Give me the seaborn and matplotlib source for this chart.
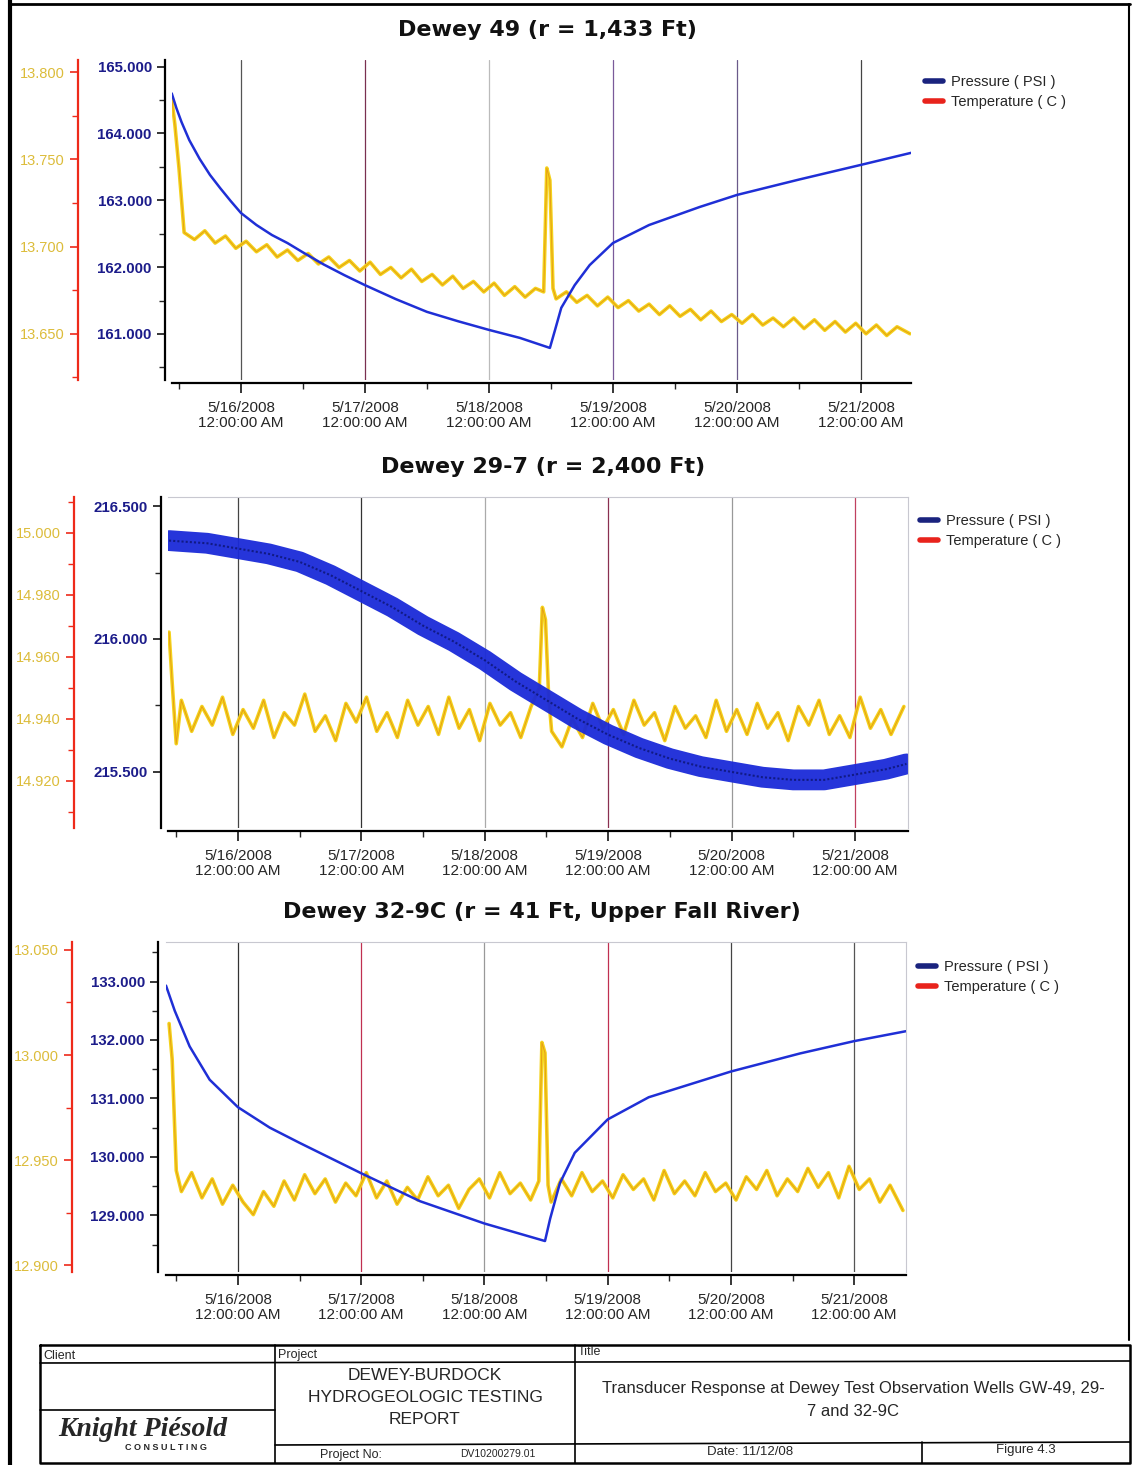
import numpy as np
import pandas as pd
import matplotlib
matplotlib.use("Agg")
import matplotlib.pyplot as plt
import seaborn as sns
from matplotlib.lines import Line2D
from matplotlib.ticker import MultipleLocator, FixedLocator, FormatStrFormatter

sns.set_style("white")
plt.rcParams['font.family'] = ['Liberation Sans', 'DejaVu Sans']

# ---- data (hours after 5/16/2008 12:00 AM) ----
day_ticks = [0, 24, 48, 72, 96, 120]
day_labels = ["5/16/2008\n12:00:00 AM", "5/17/2008\n12:00:00 AM", "5/18/2008\n12:00:00 AM",
              "5/19/2008\n12:00:00 AM", "5/20/2008\n12:00:00 AM", "5/21/2008\n12:00:00 AM"]

temp_hours = [-13.4, -12.8, -12, -11, -9, -7, -5, -3, -1, 1, 3, 5, 7, 9, 11, 13, 15, 17, 19, 21,
              23, 25, 27, 29, 31, 33, 35, 37, 39, 41, 43, 45, 47, 49, 51, 53, 55, 57,
              58.6, 59.2, 59.8, 60.4, 61, 63, 65, 67, 69, 71, 73, 75, 77, 79, 81, 83, 85, 87,
              89, 91, 93, 95, 97, 99, 101, 103, 105, 107, 109, 111, 113, 115, 117, 119, 121,
              123, 125, 127, 129.5]

# Dewey 49
p49_hours = [-13.4, -12.5, -11.5, -10, -8, -6, -4, -2, 0, 3, 6, 9, 12, 16, 20, 24, 30, 36, 42,
             48, 54, 59.8, 60.8, 62, 64.6, 67.5, 72, 79, 88.8, 96, 108, 120, 129.7]
p49_psi = [164.60, 164.38, 164.17, 163.90, 163.62, 163.38, 163.18, 162.99, 162.81, 162.63,
           162.48, 162.36, 162.22, 162.04, 161.88, 161.73, 161.52, 161.33, 161.19, 161.06,
           160.94, 160.79, 161.06, 161.39, 161.73, 162.03, 162.36, 162.63, 162.90, 163.08,
           163.31, 163.53, 163.71]
t49_c = [13.785, 13.770, 13.745, 13.708, 13.704, 13.709, 13.702, 13.706, 13.699, 13.703,
         13.697, 13.701, 13.694, 13.698, 13.692, 13.696, 13.690, 13.694, 13.688, 13.692,
         13.686, 13.691, 13.684, 13.688, 13.682, 13.687, 13.680, 13.684, 13.678, 13.683,
         13.676, 13.680, 13.674, 13.679, 13.672, 13.677, 13.671, 13.676,
         13.674, 13.745, 13.738, 13.676, 13.670, 13.674, 13.668, 13.672, 13.666, 13.671,
         13.665, 13.669, 13.663, 13.667, 13.661, 13.666, 13.660, 13.664, 13.658, 13.663,
         13.657, 13.661, 13.656, 13.661, 13.655, 13.659, 13.654, 13.659, 13.653, 13.658,
         13.652, 13.657, 13.651, 13.656, 13.650, 13.655, 13.649, 13.654, 13.650]

# Dewey 29-7
p297_hours = [-13.4, -6, 0, 6, 12, 18, 24, 30, 36, 42, 48, 54, 60, 66, 72, 78, 84, 90, 96,
              102, 108, 114, 120, 126, 130]
p297_psi = [216.37, 216.36, 216.34, 216.32, 216.29, 216.24, 216.18, 216.12, 216.05, 215.99,
            215.92, 215.84, 215.77, 215.70, 215.64, 215.59, 215.55, 215.52, 215.50, 215.48,
            215.47, 215.47, 215.49, 215.51, 215.53]
t297_c = [14.968, 14.952, 14.932, 14.946, 14.936, 14.944, 14.938, 14.947, 14.935, 14.943,
          14.937, 14.946, 14.934, 14.942, 14.938, 14.948, 14.936, 14.941, 14.933, 14.945,
          14.939, 14.947, 14.936, 14.942, 14.934, 14.946, 14.938, 14.944, 14.935, 14.947,
          14.937, 14.943, 14.933, 14.945, 14.938, 14.942, 14.934, 14.944,
          14.950, 14.976, 14.972, 14.948, 14.936, 14.931, 14.940, 14.934, 14.945, 14.937,
          14.943, 14.935, 14.946, 14.938, 14.942, 14.933, 14.944, 14.937, 14.941, 14.934,
          14.946, 14.936, 14.943, 14.935, 14.945, 14.937, 14.942, 14.933, 14.944, 14.938,
          14.946, 14.935, 14.941, 14.934, 14.947, 14.937, 14.943, 14.935, 14.944]

# Dewey 32-9C
p329_hours = [-14, -12.3, -9.4, -5.5, 0, 6.2, 12, 24, 35.5, 48, 59.8, 60.8, 62.7, 65.6, 72,
              80, 96, 109.5, 120, 130.1]
p329_psi = [132.93, 132.50, 131.89, 131.32, 130.85, 130.50, 130.24, 129.72, 129.24, 128.86,
            128.56, 128.94, 129.55, 130.07, 130.64, 131.02, 131.46, 131.77, 131.98, 132.15]
t329_c = [13.015, 12.998, 12.945, 12.935, 12.944, 12.932, 12.941, 12.929, 12.938, 12.930,
          12.924, 12.935, 12.928, 12.940, 12.931, 12.943, 12.934, 12.941, 12.930, 12.939,
          12.933, 12.944, 12.932, 12.940, 12.929, 12.937, 12.931, 12.942, 12.933, 12.938,
          12.927, 12.936, 12.941, 12.932, 12.944, 12.934, 12.939, 12.931,
          12.940, 13.006, 13.001, 12.938, 12.930, 12.941, 12.933, 12.944, 12.935, 12.940,
          12.932, 12.943, 12.936, 12.941, 12.931, 12.945, 12.934, 12.940, 12.933, 12.944,
          12.935, 12.939, 12.931, 12.942, 12.936, 12.945, 12.933, 12.941, 12.935, 12.946,
          12.937, 12.944, 12.932, 12.947, 12.936, 12.941, 12.930, 12.938, 12.926]

W, H = 1133, 1465
fig = plt.figure(figsize=(W / 100, H / 100), dpi=100)
fig.set_facecolor("w")

# page overlay in pixel coords (frame, title block)
ov = fig.add_axes([0, 0, 1, 1], zorder=-5)
ov.set_xlim(0, W)
ov.set_ylim(H, 0)
ov.axis("off")


def px_axes(x0, y0, x1, y1):
    return fig.add_axes([x0 / W, 1 - y1 / H, (x1 - x0) / W, (y1 - y0) / H])


panels = [
    dict(title="Dewey 49 (r = 1,433 Ft)", title_xy=(547, 30), box=(172, 60, 911, 380),
         p_off=7, t_off=94, ph=p49_hours, pv=p49_psi, tv=t49_c, band=False,
         plim=(160.31, 165.10), pmaj=1.0, pmin=0.5, tlim=(13.6235, 13.8069), tmaj=0.05, tmin=0.025,
         xlim=(-13.35, 129.7), leg=(912, 62), frame=False,
         grid=['#555555', '#7a3050', '#bbbbbb', '#7a5a9a', '#6a5a8a', '#444444']),
    dict(title="Dewey 29-7 (r = 2,400 Ft)", title_xy=(543, 467), box=(168, 497, 908, 828),
         p_off=7, t_off=94, ph=p297_hours, pv=p297_psi, tv=t297_c, band=True,
         plim=(215.289, 216.534), pmaj=0.5, pmin=0.25, tlim=(14.9048, 15.0116), tmaj=0.02, tmin=0.01,
         xlim=(-13.6, 130.3), leg=(907, 501), frame=True,
         grid=['#444444', '#333333', '#aaaaaa', '#8a3050', '#999999', '#c04060']),
    dict(title="Dewey 32-9C (r = 41 Ft, Upper Fall River)", title_xy=(542, 912), box=(166, 942, 906, 1272),
         p_off=8, t_off=94, ph=p329_hours, pv=p329_psi, tv=t329_c, band=False,
         plim=(128.03, 133.676), pmaj=1.0, pmin=0.5, tlim=(12.8967, 13.0538), tmaj=0.05, tmin=0.025,
         xlim=(-14.0, 130.1), leg=(905, 947), frame=True,
         grid=['#333333', '#c03050', '#999999', '#c03050', '#444444', '#555555']),
]

press_col = "#1f2fd6"
navy = "#1c1c8a"
temp_lab = "#dcbc3a"

for p in panels:
    ax = px_axes(*p["box"])
    tax = ax.twinx()
    # pressure on top of temperature
    ax.set_zorder(tax.get_zorder() + 1)
    ax.patch.set_visible(False)

    tdf = pd.DataFrame({"hours": temp_hours, "temp": p["tv"]})
    pdf = pd.DataFrame({"hours": p["ph"], "psi": p["pv"]})

    # vertical day lines
    for d, c in zip(day_ticks, p["grid"]):
        tax.axvline(d, color=c, lw=0.9, zorder=0)

    sns.lineplot(data=tdf, x="hours", y="temp", ax=tax, color="#f4d21c", lw=2.6, zorder=2)
    sns.lineplot(data=tdf, x="hours", y="temp", ax=tax, color="#e08a10", lw=0.7, alpha=0.7, zorder=3)
    if p["band"]:
        sns.lineplot(data=pdf, x="hours", y="psi", ax=ax, color="#1a2ad8", lw=15, alpha=0.95)
        sns.lineplot(data=pdf, x="hours", y="psi", ax=ax, color="#0c1470", lw=1.5,
                     dashes=(1, 1), alpha=0.8)
    else:
        sns.lineplot(data=pdf, x="hours", y="psi", ax=ax, color=press_col, lw=1.8)

    ax.set_xlim(*p["xlim"])
    ax.set_ylim(*p["plim"])
    tax.set_ylim(*p["tlim"])
    ax.set_xlabel("")
    ax.set_ylabel("")
    tax.set_ylabel("")

    # pressure axis
    ax.yaxis.set_major_locator(MultipleLocator(p["pmaj"]))
    ax.yaxis.set_minor_locator(MultipleLocator(p["pmin"]))
    ax.yaxis.set_major_formatter(FormatStrFormatter("%.3f"))
    ax.spines["left"].set_position(("outward", p["p_off"] * 0.72))
    ax.spines["left"].set_linewidth(1.6)
    ax.spines["left"].set_color("black")
    ax.tick_params(axis="y", which="major", length=6, width=1.3, labelsize=10.8,
                   labelcolor=navy, direction="out", left=True)
    ax.tick_params(axis="y", which="minor", length=4, width=1.0, left=True)
    for lab in ax.get_yticklabels():
        lab.set_fontweight("bold")

    # x axis
    ax.xaxis.set_major_locator(FixedLocator(day_ticks))
    ax.set_xticklabels(day_labels)
    ax.xaxis.set_minor_locator(MultipleLocator(12))
    ax.spines["bottom"].set_position(("outward", 2))
    ax.spines["bottom"].set_linewidth(1.6)
    ax.spines["bottom"].set_color("black")
    ax.tick_params(axis="x", which="major", length=7, width=1.3, labelsize=11,
                   direction="out", bottom=True, pad=6)
    ax.tick_params(axis="x", which="minor", length=4, width=1.0, bottom=True)
    for lab in ax.get_xticklabels():
        lab.set_linespacing(1.15)

    for s in ["top", "right"]:
        ax.spines[s].set_visible(p["frame"])
        ax.spines[s].set_color("#c8c8d0")
        ax.spines[s].set_linewidth(0.8)

    # temperature axis moved to the far left
    tax.yaxis.tick_left()
    tax.yaxis.set_label_position("left")
    tax.spines["left"].set_visible(True)
    tax.spines["left"].set_position(("outward", p["t_off"] * 0.72))
    tax.spines["left"].set_color("#ee2a1a")
    tax.spines["left"].set_linewidth(1.6)
    for s in ["top", "right", "bottom"]:
        tax.spines[s].set_visible(False)
    tax.yaxis.set_major_locator(MultipleLocator(p["tmaj"]))
    tax.yaxis.set_minor_locator(MultipleLocator(p["tmin"]))
    tax.yaxis.set_major_formatter(FormatStrFormatter("%.3f"))
    tax.tick_params(axis="y", which="major", length=6, width=1.2, color="#ee2a1a",
                    labelsize=10.5, labelcolor=temp_lab, direction="out", left=True, right=False)
    tax.tick_params(axis="y", which="minor", length=4, width=1.0, color="#ee2a1a",
                    left=True, right=False)

    ov.text(p["title_xy"][0], p["title_xy"][1], p["title"], ha="center", va="center",
            fontsize=16, fontweight="bold", color="#111111", family=["DejaVu Sans"])

    handles = [Line2D([], [], color="#1a237e", lw=4), Line2D([], [], color="#e8231c", lw=4)]
    fig.legend(handles, ["Pressure ( PSI )", "Temperature ( C )"], loc="upper left",
               bbox_to_anchor=(p["leg"][0] / W, 1 - p["leg"][1] / H), frameon=False,
               fontsize=10.5, handlelength=1.2, handletextpad=0.6, labelspacing=0.4)

# ---- page frame ----
ov.plot([10, 10], [0, H], color="black", lw=3)
ov.plot([10, 1130], [4, 4], color="black", lw=2)
ov.plot([1129, 1129], [4, 1340], color="black", lw=1.5)

# ---- title block ----
k = "black"
ov.plot([40, 1130, 1130, 40, 40], [1345, 1345, 1463, 1463, 1345], color=k, lw=1.8)
ov.plot([40, 1130], [1363, 1361], color=k, lw=1.2)
ov.plot([275, 275], [1345, 1463], color=k, lw=1.2)
ov.plot([575, 575], [1345, 1463], color=k, lw=1.2)
ov.plot([40, 275], [1410, 1410], color=k, lw=1.2)
ov.plot([275, 1130], [1445, 1442], color=k, lw=1.2)
ov.plot([922, 922], [1442, 1463], color=k, lw=1.2)

ov.text(43, 1356, "Client", fontsize=9, va="center")
ov.text(278, 1355, "Project", fontsize=9, va="center")
ov.text(578, 1352, "Title", fontsize=9, va="center")
for yy, line in zip([1375, 1397, 1420], ["DEWEY-BURDOCK", "HYDROGEOLOGIC TESTING", "REPORT"]):
    ov.text(425, yy, line, fontsize=12.5, ha="center", va="center")
ov.text(853, 1389, "Transducer Response at Dewey Test Observation Wells GW-49, 29-",
        fontsize=12, ha="center", va="center")
ov.text(853, 1411, "7 and 32-9C", fontsize=12, ha="center", va="center")
ov.text(320, 1455, "Project No:", fontsize=9, va="center")
ov.text(460, 1454, "DV10200279.01", fontsize=7.5, va="center")
ov.text(750, 1452, "Date: 11/12/08", fontsize=9.5, ha="center", va="center")
ov.text(1026, 1450, "Figure 4.3", fontsize=9.5, ha="center", va="center")
ov.text(143, 1429, "Knight Piésold", fontsize=20, fontweight="bold", fontstyle="italic",
        family=["Liberation Serif", "DejaVu Serif"], ha="center", va="center")
ov.text(166, 1448, "C O N S U L T I N G", fontsize=6.5, fontweight="bold", ha="center", va="center")

fig.savefig("out.png", dpi=100, facecolor="w")
